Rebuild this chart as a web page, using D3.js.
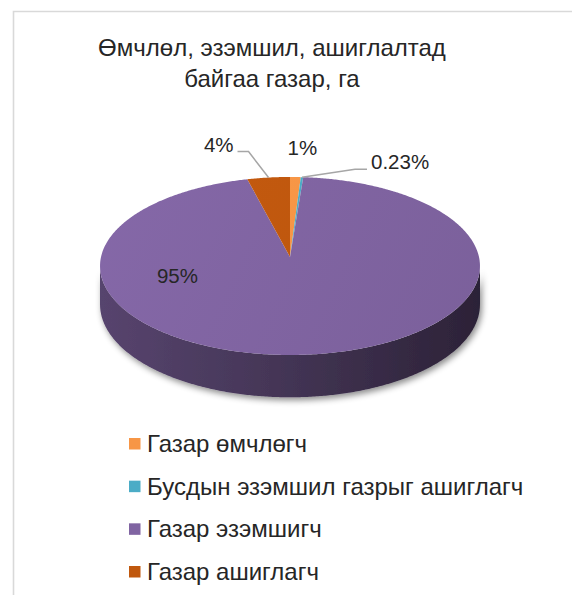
<!DOCTYPE html>
<html>
<head>
<meta charset="utf-8">
<script src="https://cdn.jsdelivr.net/npm/d3@7"></script>
<style>
  html, body { margin: 0; padding: 0; background: #fff; }
  svg { display: block; font-family: "Liberation Sans", Arial, sans-serif; }
</style>
</head>
<body>
<svg id="chart" width="572" height="595"></svg>
<script>
// Land under ownership, possession and use (ha), share by holder type
const categories = ["Газар өмчлөгч", "Бусдын эзэмшил газрыг ашиглагч", "Газар эзэмшигч", "Газар ашиглагч"];
const values = [1, 0.23, 95, 4];
const valueLabels = ["1%", "0.23%", "95%", "4%"];
const colors = ["#F79646", "#4BACC6", "#8064A2", "#C0580E"];
const titleLines = ["Өмчлөл, эзэмшил, ашиглалтад", "байгаа газар, га"];

const W = 572, H = 595;
const svg = d3.select("#chart");
const defs = svg.append("defs");

// frame of the chart area
svg.append("path")
  .attr("d", `M13.5,${H} L13.5,11.5 L${W},11.5`)
  .attr("fill", "none").attr("stroke", "#D9D9D9").attr("stroke-width", 1.6);

// title
svg.append("text")
  .attr("x", 272).attr("y", 56)
  .attr("text-anchor", "middle")
  .attr("font-size", 24).attr("fill", "#262626")
  .selectAll("tspan").data(titleLines).join("tspan")
  .attr("x", 272).attr("dy", (d, i) => i ? 31 : 0)
  .text(d => d);

// 3D pie: circle in a tilted plane seen in perspective
const cx = 290, cy = 257, A = 189, B = 88.1, k = 0.101, depth = 38;
function project(phi, r, down) {
  const u = r * Math.sin(phi);          // left-right
  const v = -r * Math.cos(phi);         // back (-) / front (+)
  const w = 1 - k * v;
  return [cx + A * u / w, cy + B * v / w + (down ? depth / w : 0)];
}

const pie = d3.pie().sort(null).value(d => d)(values);
const TAU = Math.PI * 2;
const step = TAU / 720;

function rim(a0, a1, down) {
  const n = Math.max(2, Math.ceil((a1 - a0) / step));
  return d3.range(n + 1).map(i => project(a0 + (a1 - a0) * i / n, 1, down));
}
const line = d3.line();

// soft shadow under the body
const shadow = defs.append("filter").attr("id", "shadow")
  .attr("x", "-20%").attr("y", "-20%").attr("width", "140%").attr("height", "160%");
shadow.append("feDropShadow").attr("dx", 2).attr("dy", 3)
  .attr("stdDeviation", 3).attr("flood-color", "#000").attr("flood-opacity", 0.45);

// visible part of the outer wall: between the two silhouette angles
const sideFrom = Math.acos(-k), sideTo = TAU - Math.acos(-k);
const sideLayer = svg.append("g").attr("filter", "url(#shadow)");
pie.forEach((s, i) => {
  const a0 = Math.max(s.startAngle, sideFrom), a1 = Math.min(s.endAngle, sideTo);
  if (a1 <= a0) return;
  const base = d3.color(colors[i]);
  const g = defs.append("linearGradient").attr("id", "side" + i)
    .attr("gradientUnits", "userSpaceOnUse")
    .attr("x1", cx - A).attr("x2", cx + A).attr("y1", 0).attr("y2", 0);
  [[0, 0.68], [0.45, 0.54], [1, 0.34]].forEach(([o, f]) => {
    g.append("stop").attr("offset", o)
      .attr("stop-color", d3.rgb(base.r * f, base.g * f, base.b * f));
  });
  const pts = rim(a0, a1, false).concat(rim(a0, a1, true).reverse());
  sideLayer.append("path").attr("d", line(pts) + "Z").attr("fill", `url(#side${i})`);
});

// top face
const topLayer = svg.append("g");
pie.forEach((s, i) => {
  const base = d3.color(colors[i]);
  const g = defs.append("linearGradient").attr("id", "top" + i)
    .attr("gradientUnits", "userSpaceOnUse")
    .attr("x1", cx - A).attr("y1", cy - B).attr("x2", cx + A).attr("y2", cy + B);
  g.append("stop").attr("offset", 0).attr("stop-color", d3.color(base).brighter(0.1));
  g.append("stop").attr("offset", 1).attr("stop-color", d3.color(base).darker(0.12));
  const pts = [[cx, cy]].concat(rim(s.startAngle, s.endAngle, false));
  topLayer.append("path").attr("d", line(pts) + "Z").attr("fill", `url(#top${i})`);
});

// data labels
const mid = s => (s.startAngle + s.endAngle) / 2;
const labelSpec = [
  { dx: 7, dy: -22, anchor: "middle", leader: null },
  { dx: 0, dy: 0, anchor: "start", leader: [[53, -8], [65, -8]], tx: 69 },
  { inside: true, phi: 250 * Math.PI / 180, r: 0.62, anchor: "middle" },
  { dx: 0, dy: 0, anchor: "end", leader: [[-20, -26], [-31, -26]], tx: -35 }
];
const labels = svg.append("g").attr("font-size", 20.5).attr("fill", "#262626");
pie.forEach((s, i) => {
  const spec = labelSpec[i];
  if (spec.inside) {
    const p = project(spec.phi, spec.r, false);
    labels.append("text").attr("x", p[0]).attr("y", p[1]).attr("dy", "0.35em")
      .attr("text-anchor", spec.anchor).text(valueLabels[i]);
    return;
  }
  const p = project(mid(s), 1, false);
  if (spec.leader) {
    const pts = [p].concat(spec.leader.map(o => [p[0] + o[0], p[1] + o[1]]));
    labels.append("path").attr("d", line(pts)).attr("fill", "none")
      .attr("stroke", "#A6A6A6").attr("stroke-width", 1.5);
    const end = pts[pts.length - 1];
    labels.append("text").attr("x", p[0] + spec.tx).attr("y", end[1])
      .attr("text-anchor", spec.anchor).text(valueLabels[i]);
  } else {
    labels.append("text").attr("x", p[0] + spec.dx).attr("y", p[1] + spec.dy)
      .attr("text-anchor", spec.anchor).text(valueLabels[i]);
  }
});

// legend
const legend = svg.append("g").attr("font-size", 24).attr("fill", "#262626");
const rowY = d3.scalePoint().domain(categories).range([444, 572]);
categories.forEach((c, i) => {
  const y = rowY(c);
  legend.append("rect").attr("x", 129).attr("y", y - 6).attr("width", 11.5).attr("height", 11.5)
    .attr("fill", colors[i]);
  legend.append("text").attr("x", 147).attr("y", y + 8).text(c);
});
</script>
</body>
</html>
